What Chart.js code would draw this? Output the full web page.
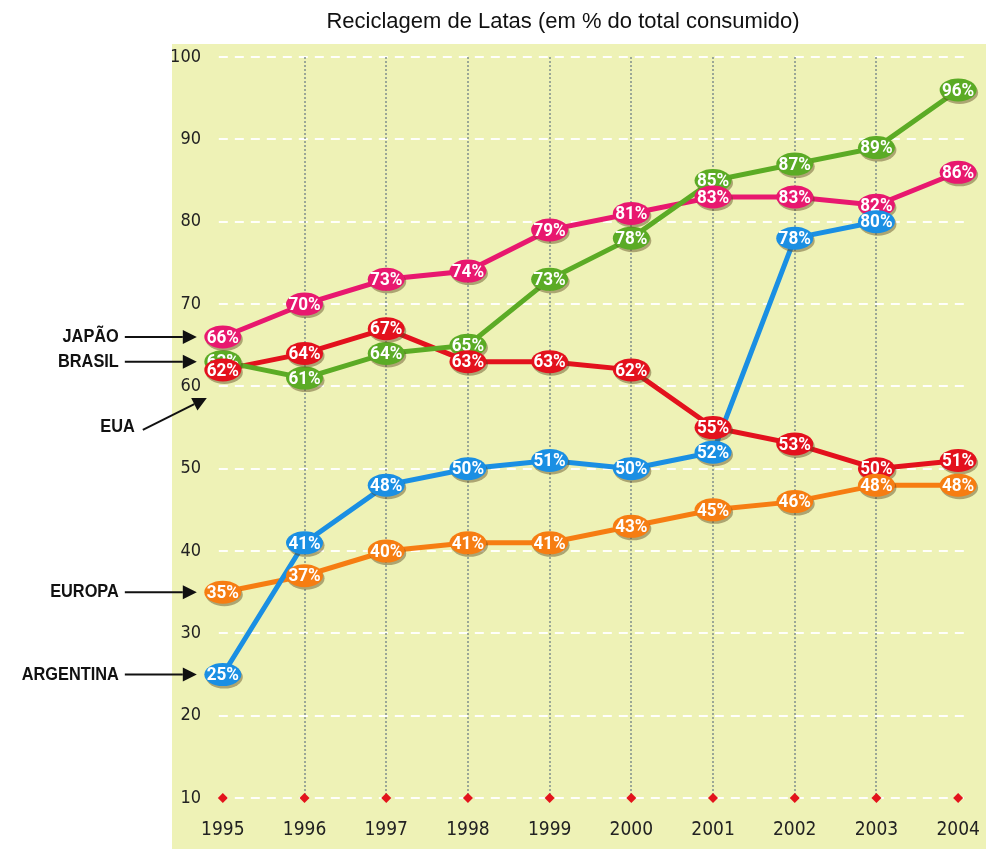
<!DOCTYPE html>
<html>
<head>
<meta charset="utf-8">
<script src="https://cdn.jsdelivr.net/npm/chart.js@4"></script>
<style>
html, body { margin: 0; padding: 0; background: #fff; }
</style>
</head>
<body>
<canvas id="myChart" width="986" height="849"></canvas>
<script>
// dados
var years = [1995, 1996, 1997, 1998, 1999, 2000, 2001, 2002, 2003, 2004];
var japao = [66, 70, 73, 74, 79, 81, 83, 83, 82, 86];
var brasil = [63, 61, 64, 65, 73, 78, 85, 87, 89, 96];
var eua = [62, 64, 67, 63, 63, 62, 55, 53, 50, 51];
var argentina = [25, 41, 48, 50, 51, 50, 52, 78, 80, null];
var europa = [35, 37, 40, 41, 41, 43, 45, 46, 48, 48];
var yTicks = [10, 20, 30, 40, 50, 60, 70, 80, 90, 100];
var baseValue = 10;
var titleText = 'Reciclagem de Latas (em % do total consumido)';

var numFont = '"DejaVu Sans Condensed", Roboto, sans-serif';

// ordem de desenho dos balões: os de baixo ficam por cima
var series = [
    { name: 'BRASIL', values: brasil, color: '#5bab25', arrow: 'flat' },
    { name: 'JAPÃO', values: japao, color: '#e8186f', arrow: 'flat' },
    { name: 'EUA', values: eua, color: '#e3111d', arrow: 'up' },
    { name: 'ARGENTINA', values: argentina, color: '#1a8fe3', arrow: 'flat' },
    { name: 'EUROPA', values: europa, color: '#f67d12', arrow: 'flat' }
];

function toPoints(vals) {
    return years.map(function(yr, i) { return { x: yr, y: vals[i] }; });
}

var datasets = series.map(function(s) {
    return {
        label: s.name,
        data: toPoints(s.values),
        borderColor: s.color,
        backgroundColor: s.color,
        borderWidth: 5,
        pointRadius: 0,
        tension: 0,
        spanGaps: false
    };
});
datasets.push({
    label: 'base',
    data: years.map(function(yr) { return { x: yr, y: baseValue }; }),
    showLine: false,
    pointStyle: 'rectRot',
    pointRadius: 5,
    backgroundColor: '#e3141c',
    borderColor: '#e3141c',
    borderWidth: 0
});

// fundo amarelo do painel + título
var panelBg = {
    id: 'panelBg',
    beforeDraw: function(chart) {
        var ctx = chart.ctx;
        var left = chart.scales.y.left;
        ctx.save();
        ctx.fillStyle = '#eef2b6';
        ctx.fillRect(left, chart.chartArea.top, chart.width - left, chart.height - chart.chartArea.top);
        ctx.fillStyle = '#111';
        ctx.font = '22px "Liberation Sans", Arial, sans-serif';
        ctx.textAlign = 'center';
        ctx.textBaseline = 'middle';
        ctx.fillText(titleText, 563, 22);
        ctx.restore();
    }
};

// linhas tracejadas brancas e pontilhadas verticais
var gridLines = {
    id: 'gridLines',
    beforeDatasetsDraw: function(chart) {
        var ctx = chart.ctx;
        var xs = chart.scales.x, ys = chart.scales.y;
        var x0 = xs.getPixelForValue(years[0]) - 4;
        var x1 = xs.getPixelForValue(years[years.length - 1]) + 10;
        ctx.save();
        ctx.strokeStyle = 'rgba(255,255,255,0.95)';
        ctx.lineWidth = 2;
        ctx.setLineDash([9, 7]);
        yTicks.forEach(function(v) {
            var py = Math.round(ys.getPixelForValue(v));
            ctx.beginPath();
            ctx.moveTo(x0, py);
            ctx.lineTo(x1, py);
            ctx.stroke();
        });
        ctx.strokeStyle = '#7f8f8c';
        ctx.lineWidth = 1.5;
        ctx.setLineDash([2, 2]);
        var top = ys.getPixelForValue(yTicks[yTicks.length - 1]);
        var bottom = ys.getPixelForValue(baseValue);
        for (var i = 1; i < years.length - 1; i++) {
            var px = Math.round(xs.getPixelForValue(years[i]));
            ctx.beginPath();
            ctx.moveTo(px, top);
            ctx.lineTo(px, bottom);
            ctx.stroke();
        }
        ctx.restore();
    }
};

// balões com os valores
var bubbles = {
    id: 'bubbles',
    afterDatasetsDraw: function(chart) {
        var ctx = chart.ctx;
        ctx.save();
        ctx.font = 'bold 19px Roboto, sans-serif';
        ctx.textAlign = 'center';
        ctx.textBaseline = 'middle';
        series.forEach(function(s, di) {
            var meta = chart.getDatasetMeta(di);
            meta.data.forEach(function(pt, i) {
                var v = s.values[i];
                if (v === null) return;
                ctx.fillStyle = 'rgba(90,70,30,0.45)';
                ctx.beginPath();
                ctx.ellipse(pt.x + 1.5, pt.y + 2.5, 18.5, 11.5, 0, 0, Math.PI * 2);
                ctx.fill();
                ctx.fillStyle = s.color;
                ctx.beginPath();
                ctx.ellipse(pt.x, pt.y, 18.5, 11.5, 0, 0, Math.PI * 2);
                ctx.fill();
                ctx.fillStyle = '#fff';
                ctx.save();
                ctx.translate(pt.x, pt.y + 1);
                ctx.scale(0.9, 1);
                ctx.fillText(v + '%', 0, 0);
                ctx.restore();
            });
        });
        ctx.restore();
    }
};

function arrow(ctx, x0, y0, x1, y1) {
    var a = Math.atan2(y1 - y0, x1 - x0);
    var hl = 14, hw = 7;
    var bx = x1 - hl * Math.cos(a), by = y1 - hl * Math.sin(a);
    ctx.beginPath();
    ctx.moveTo(x0, y0);
    ctx.lineTo(bx, by);
    ctx.stroke();
    ctx.beginPath();
    ctx.moveTo(x1, y1);
    ctx.lineTo(bx + hw * Math.sin(a), by - hw * Math.cos(a));
    ctx.lineTo(bx - hw * Math.sin(a), by + hw * Math.cos(a));
    ctx.closePath();
    ctx.fill();
}

function narrowText(ctx, text, x, y) {
    ctx.save();
    ctx.translate(x, y);
    ctx.scale(0.86, 1);
    ctx.fillText(text, 0, 0);
    ctx.restore();
}

// nomes dos países com setas
var sideLabels = {
    id: 'sideLabels',
    afterDraw: function(chart) {
        var ctx = chart.ctx;
        ctx.save();
        ctx.font = 'bold 19px "Liberation Sans", Arial, sans-serif';
        ctx.fillStyle = '#111';
        ctx.strokeStyle = '#111';
        ctx.lineWidth = 2;
        ctx.textBaseline = 'middle';
        ctx.textAlign = 'right';
        series.forEach(function(s, di) {
            var pt = chart.getDatasetMeta(di).data[0];
            if (s.arrow === 'flat') {
                narrowText(ctx, s.name, pt.x - 104, pt.y);
                arrow(ctx, pt.x - 98, pt.y, pt.x - 26, pt.y);
            } else {
                narrowText(ctx, s.name, pt.x - 88, pt.y + 57);
                arrow(ctx, pt.x - 80, pt.y + 60, pt.x - 16, pt.y + 28);
            }
        });
        ctx.restore();
    }
};

var ctx = document.getElementById('myChart').getContext('2d');
var myChart = new Chart(ctx, {
    type: 'line',
    data: { datasets: datasets },
    options: {
        responsive: false,
        animation: false,
        devicePixelRatio: 1,
        layout: { padding: { left: 172, right: 0, top: 44, bottom: 0 } },
        plugins: {
            legend: { display: false },
            tooltip: { enabled: false },
            title: { display: false }
        },
        scales: {
            x: {
                type: 'linear',
                min: 1994.843,
                max: 2004.242,
                grid: { display: false, drawTicks: false },
                border: { display: false },
                afterBuildTicks: function(scale) {
                    scale.ticks = years.map(function(v) { return { value: v }; });
                },
                afterFit: function(scale) { scale.height = 36; },
                ticks: {
                    padding: 6,
                    color: '#222',
                    maxRotation: 0,
                    font: { family: numFont, size: 19 },
                    callback: function(v) { return String(v); }
                }
            },
            y: {
                min: 8.18,
                max: 101.58,
                grid: { display: false, drawTicks: false },
                border: { display: false },
                afterBuildTicks: function(scale) {
                    scale.ticks = yTicks.map(function(v) { return { value: v }; });
                },
                afterFit: function(scale) { scale.width = 38; },
                ticks: {
                    padding: 9,
                    color: '#222',
                    font: { family: numFont, size: 18 }
                }
            }
        }
    },
    plugins: [panelBg, gridLines, bubbles, sideLabels]
});
</script>
</body>
</html>
